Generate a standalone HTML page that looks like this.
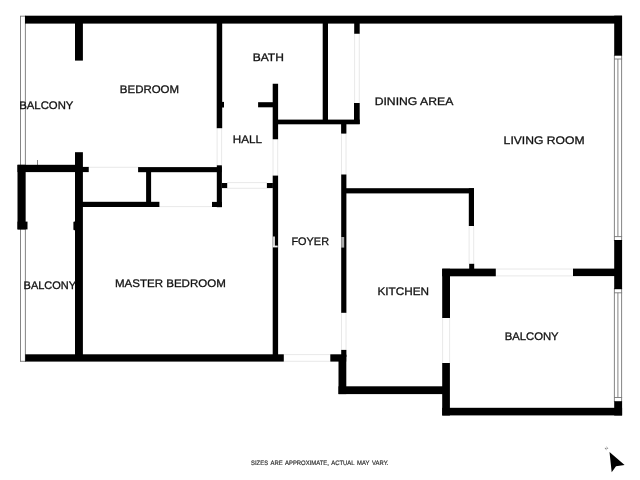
<!DOCTYPE html>
<html><head><meta charset="utf-8">
<style>
html,body{margin:0;padding:0;background:#fff;width:640px;height:480px;overflow:hidden}
svg{display:block;will-change:transform}
text{font-family:"Liberation Sans",sans-serif;font-size:11px;fill:#111;stroke:#111;stroke-width:0.3px;text-rendering:geometricPrecision}
</style></head><body>
<svg width="640" height="480" viewBox="0 0 640 480">
<g fill="none" stroke="#777" stroke-width="0.9">
<line x1="20.5" y1="16" x2="20.5" y2="361.5"/>
<line x1="25.4" y1="16" x2="25.4" y2="361.5"/>
<line x1="20" y1="16.2" x2="25.8" y2="16.2"/>
<line x1="20" y1="361.3" x2="25.8" y2="361.3"/>
<line x1="614.4" y1="55" x2="614.4" y2="241"/>
<line x1="621.6" y1="55" x2="621.6" y2="241"/>
<line x1="617.9" y1="59" x2="617.9" y2="236.5"/>
<line x1="614" y1="59" x2="622.1" y2="59"/>
<line x1="614" y1="236.6" x2="622.1" y2="236.6"/>
<line x1="614.4" y1="288" x2="614.4" y2="402"/>
<line x1="621.6" y1="288" x2="621.6" y2="402"/>
<line x1="617.9" y1="292.8" x2="617.9" y2="397.5"/>
<line x1="614" y1="292.8" x2="622.1" y2="292.8"/>
<line x1="614" y1="397.5" x2="622.1" y2="397.5"/>
<line x1="37.5" y1="160" x2="37.5" y2="165"/>
</g>
<g fill="none" stroke="#e2e2e2" stroke-width="0.8">
<line x1="88" y1="167.3" x2="139" y2="167.3"/>
<line x1="159" y1="206.6" x2="212" y2="206.6"/>
<line x1="227" y1="182.6" x2="267" y2="182.6"/>
<line x1="227" y1="188.3" x2="267" y2="188.3"/>
<line x1="284" y1="354.6" x2="330" y2="354.6"/>
<line x1="284" y1="361.3" x2="330" y2="361.3"/>
<line x1="354.6" y1="33" x2="354.6" y2="103"/>
<line x1="359.3" y1="33" x2="359.3" y2="103"/>
<line x1="341.5" y1="134" x2="341.5" y2="175"/>
<line x1="346" y1="134" x2="346" y2="175"/>
<line x1="273" y1="139" x2="273" y2="176"/>
<line x1="277.7" y1="139" x2="277.7" y2="176"/>
<line x1="341.5" y1="312" x2="341.5" y2="350"/>
<line x1="346" y1="312" x2="346" y2="350"/>
<line x1="469.1" y1="226" x2="469.1" y2="264"/>
<line x1="473.7" y1="226" x2="473.7" y2="264"/>
<line x1="496" y1="269" x2="573" y2="269"/>
<line x1="496" y1="275.9" x2="573" y2="275.9"/>
<line x1="442.6" y1="318" x2="442.6" y2="363"/>
<line x1="449.6" y1="318" x2="449.6" y2="363"/>
<line x1="217.1" y1="128" x2="217.1" y2="165"/>
<line x1="221.6" y1="128" x2="221.6" y2="165"/>
</g>
<g fill="#000">
<rect x="25" y="15.7" width="597" height="7.9"/>
<rect x="75" y="23" width="7.9" height="37.6"/>
<rect x="216.7" y="23" width="5.5" height="105.2"/>
<rect x="222" y="101.9" width="2" height="5.6"/>
<rect x="258.1" y="102.2" width="15" height="5.1"/>
<rect x="272.7" y="83.75" width="5.4" height="55.5"/>
<rect x="277" y="119.6" width="82.7" height="4.7"/>
<rect x="322.7" y="23" width="5.3" height="97"/>
<rect x="354.2" y="23" width="5.5" height="10.75"/>
<rect x="354" y="103" width="5.7" height="21"/>
<rect x="341.1" y="124" width="5.3" height="9.6"/>
<rect x="341.2" y="174.5" width="5.2" height="138.3"/>
<rect x="346" y="188.2" width="128" height="5.2"/>
<rect x="468.8" y="188.2" width="5.2" height="37.8"/>
<rect x="469.2" y="263.8" width="5" height="5.5"/>
<rect x="442.2" y="268.6" width="53.6" height="7.7"/>
<rect x="442.2" y="268.8" width="7.8" height="49.2"/>
<rect x="573" y="268.6" width="49" height="7.5"/>
<rect x="614.2" y="15.7" width="7.9" height="40"/>
<rect x="614.2" y="240" width="7.9" height="49.2"/>
<rect x="614.2" y="401.2" width="7.9" height="14.3"/>
<rect x="442.2" y="407.8" width="179.9" height="7.6"/>
<rect x="442.2" y="363" width="7.7" height="52.5"/>
<rect x="338.5" y="386.3" width="105.5" height="7.8"/>
<rect x="341.2" y="349.9" width="5.2" height="7"/>
<rect x="330.3" y="354.3" width="15.9" height="7.3"/>
<rect x="338.5" y="355" width="7.8" height="39.1"/>
<rect x="25.2" y="354.3" width="258.6" height="7.3"/>
<rect x="272.7" y="175.6" width="5.4" height="184"/>
<rect x="17.5" y="164.8" width="58" height="7.3"/>
<rect x="80" y="166.9" width="8.75" height="5.2"/>
<rect x="17.5" y="164.8" width="7.9" height="64.6"/>
<rect x="17.5" y="221.6" width="10" height="7.8"/>
<rect x="75" y="152.2" width="7.9" height="208"/>
<rect x="138.1" y="167.1" width="83.5" height="5.1"/>
<rect x="146.1" y="172" width="5" height="30.5"/>
<rect x="82" y="201.8" width="77.4" height="5.2"/>
<rect x="212" y="201.9" width="9.9" height="5.1"/>
<rect x="216.8" y="165.3" width="5.1" height="41.9"/>
<rect x="221.9" y="183" width="5.3" height="5.1"/>
<rect x="266.9" y="183" width="6" height="5.1"/>
<rect x="73.4" y="221.6" width="2.2" height="8.6" rx="1"/>
</g>
<rect x="341.2" y="237" width="3" height="10.6" fill="#aaa"/>
<rect x="272.7" y="236.5" width="2.3" height="9.5" fill="#d0d0d0"/>
<rect x="272.7" y="245.6" width="5" height="1.8" fill="#eee"/>
<g>
<text x="19.21" y="109" textLength="54.18" lengthAdjust="spacingAndGlyphs" style="font-size:11px;">BALCONY</text>
<text x="119.87" y="93" textLength="59.17" lengthAdjust="spacingAndGlyphs" style="font-size:11px;">BEDROOM</text>
<text x="252.66" y="61" textLength="31.17" lengthAdjust="spacingAndGlyphs" style="font-size:11px;">BATH</text>
<text x="374.67" y="105" textLength="78.64" lengthAdjust="spacingAndGlyphs" style="font-size:11px;">DINING AREA</text>
<text x="503.63" y="144" textLength="80.97" lengthAdjust="spacingAndGlyphs" style="font-size:11px;">LIVING ROOM</text>
<text x="232.71" y="143" textLength="29.21" lengthAdjust="spacingAndGlyphs" style="font-size:11px;">HALL</text>
<text x="291.44" y="245" textLength="37.59" lengthAdjust="spacingAndGlyphs" style="font-size:11px;">FOYER</text>
<text x="23.6" y="289" textLength="52.45" lengthAdjust="spacingAndGlyphs" style="font-size:11px;">BALCONY</text>
<text x="114.99" y="287" textLength="110.75" lengthAdjust="spacingAndGlyphs" style="font-size:11px;">MASTER BEDROOM</text>
<text x="377.42" y="295" textLength="51.57" lengthAdjust="spacingAndGlyphs" style="font-size:11px;">KITCHEN</text>
<text x="504.65" y="340" textLength="54.02" lengthAdjust="spacingAndGlyphs" style="font-size:11px;">BALCONY</text>
<text x="251.03" y="465.3" textLength="137.46" lengthAdjust="spacingAndGlyphs" style="font-size:6.4px;fill:#333;stroke:#333;stroke-width:0.2px;word-spacing:1.2px">SIZES ARE APPROXIMATE, ACTUAL MAY VARY.</text>
</g>
<path d="M609.5,452 L624.6,465 L616,466.2 L611.7,472.2 Z" fill="#000"/>
<text x="0" y="0" transform="translate(606.3,450.6) rotate(-40)" style="font-size:4.2px;fill:#666;stroke:none">N</text>
</svg>
</body></html>
